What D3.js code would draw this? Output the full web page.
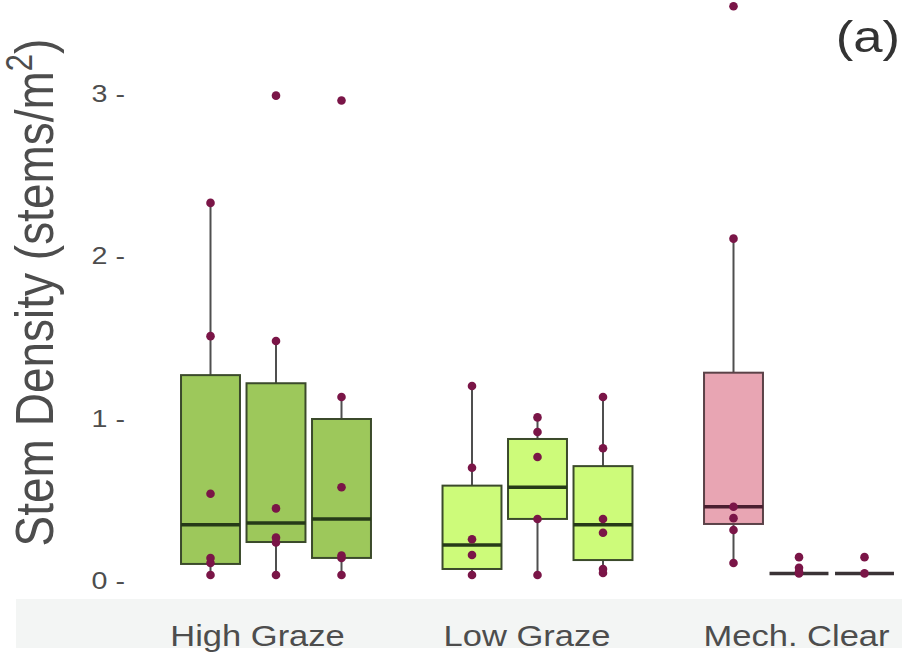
<!DOCTYPE html>
<html>
<head>
<meta charset="utf-8">
<script src="https://cdn.jsdelivr.net/npm/d3@7"></script>
<style>
  html, body { margin: 0; padding: 0; background: #fff; }
  svg { display: block; font-family: Arial, "Liberation Sans", sans-serif; }
</style>
</head>
<body>
<svg id="chart" width="902" height="660"></svg>
<script>
// ---- data ----
const groups = ["High Graze", "Low Graze", "Mech. Clear"];
const boxGroup = [0, 0, 0, 1, 1, 1, 2, 2, 2];
const boxSlot  = [0, 1, 2, 0, 1, 2, 0, 1, 2];
const q1Vals   = [0.068, 0.203, 0.105, 0.037, 0.345, 0.092, 0.314, 0.01, 0.01];
const medVals  = [0.31, 0.32, 0.345, 0.185, 0.54, 0.31, 0.42, 0.01, 0.01];
const q3Vals   = [1.23, 1.18, 0.96, 0.55, 0.837, 0.67, 1.245, 0.01, 0.01];
const loVals   = [0, 0, 0, 0, 0, 0.012, 0.074, 0.01, 0.01];
const hiVals   = [2.29, 1.44, 1.095, 1.163, 0.97, 1.095, 2.07, 0.01, 0.01];
const pointVals = [
  [0, 0.074, 0.105, 0.50, 1.47, 2.29],
  [0, 0.20, 0.23, 0.41, 1.44, 2.95],
  [0, 0.105, 0.12, 0.54, 1.095, 2.92],
  [0, 0.123, 0.22, 0.66, 1.163],
  [0, 0.345, 0.726, 0.88, 0.97],
  [0.012, 0.037, 0.26, 0.345, 0.78, 1.095],
  [0.074, 0.277, 0.35, 0.42, 2.07, 3.5],
  [0.01, 0.02, 0.045, 0.11],
  [0.01, 0.11]
];
const yTicks = [0, 1, 2, 3];
const groupFill   = ["#9dc85b", "#cdfb7a", "#e8a5b3"];
const groupStroke = ["#3b4a2b", "#3b4a2b", "#5b4248"];
const groupMedian = ["#263a18", "#263a18", "#4a1f30"];

// ---- scales ----
const svg = d3.select("#chart");
const y = d3.scaleLinear().domain([0, 3]).range([575, 87.5]);
const xGroup = d3.scalePoint().domain(groups).range([276, 799]);
const xSlot = d3.scaleBand().domain([0, 1, 2]).range([-98.25, 98.25])
  .paddingInner(0.1).paddingOuter(0.05);
const xLabel = d3.scalePoint().domain(groups).range([257, 796]);
const stretch = 1.17;

// bottom grey strip
svg.append("rect").attr("x", 16).attr("y", 599).attr("width", 886).attr("height", 49)
  .attr("fill", "#f3f5f4");

// y axis
const yAxis = svg.append("g").attr("transform", "translate(125,0)")
  .call(d3.axisLeft(y).tickValues(yTicks).tickSize(0).tickPadding(0).tickFormat(d => d + " -"));
yAxis.select(".domain").remove();
yAxis.selectAll("text")
  .attr("font-size", 24.5).attr("fill", "#4d4d4d")
  .attr("font-family", "Arial, 'Liberation Sans', sans-serif")
  .attr("dy", "0.32em")
  .attr("y", 6)
  .attr("transform", `scale(${stretch},1)`);

// y title
const yt = svg.append("text")
  .attr("transform", `translate(53,292.5) scale(${stretch},1) rotate(-90)`)
  .attr("text-anchor", "middle")
  .attr("font-size", 46).attr("fill", "#4d4d4d");
yt.append("tspan").text("Stem Density (stems/m");
yt.append("tspan").attr("font-size", 31).attr("dy", -18).text("2");
yt.append("tspan").attr("dy", 18).text(")");

// x labels
const xAxis = svg.append("g").attr("transform", "translate(0,646)")
  .call(d3.axisBottom(xLabel).tickSize(0).tickPadding(0));
xAxis.select(".domain").remove();
xAxis.selectAll("text")
  .attr("font-size", 29.5).attr("fill", "#4d4d4d")
  .attr("font-family", "Arial, 'Liberation Sans', sans-serif")
  .attr("dy", 0).attr("y", 0)
  .attr("transform", `scale(${stretch},1)`);

// panel tag
svg.append("text").attr("transform", `translate(900,52) scale(${stretch},1)`)
  .attr("text-anchor", "end").attr("font-size", 45).attr("fill", "#333")
  .text("(a)");

// boxes
const bw = xSlot.bandwidth();
boxGroup.forEach((g, i) => {
  const cx = xGroup(groups[g]) + xSlot(boxSlot[i]) + bw / 2;
  const gEl = svg.append("g");
  // whiskers
  gEl.append("line").attr("x1", cx).attr("x2", cx)
    .attr("y1", y(q3Vals[i])).attr("y2", y(hiVals[i]))
    .attr("stroke", "#4f4f4f").attr("stroke-width", 2);
  gEl.append("line").attr("x1", cx).attr("x2", cx)
    .attr("y1", y(q1Vals[i])).attr("y2", y(loVals[i]))
    .attr("stroke", "#4f4f4f").attr("stroke-width", 2);
  // box
  const h = y(q1Vals[i]) - y(q3Vals[i]);
  if (h > 1) {
    gEl.append("rect").attr("x", cx - bw / 2).attr("y", y(q3Vals[i]))
      .attr("width", bw).attr("height", h)
      .attr("fill", groupFill[g]).attr("stroke", groupStroke[g]).attr("stroke-width", 2);
  }
  // median
  gEl.append("line").attr("x1", cx - bw / 2).attr("x2", cx + bw / 2)
    .attr("y1", y(medVals[i])).attr("y2", y(medVals[i]))
    .attr("stroke", h > 1 ? groupMedian[g] : "#3a3336").attr("stroke-width", 3.5);
  // points
  gEl.selectAll("circle").data(pointVals[i]).join("circle")
    .attr("cx", cx).attr("cy", d => y(d)).attr("r", 4.3)
    .attr("fill", "#7a1547");
});
</script>
</body>
</html>
